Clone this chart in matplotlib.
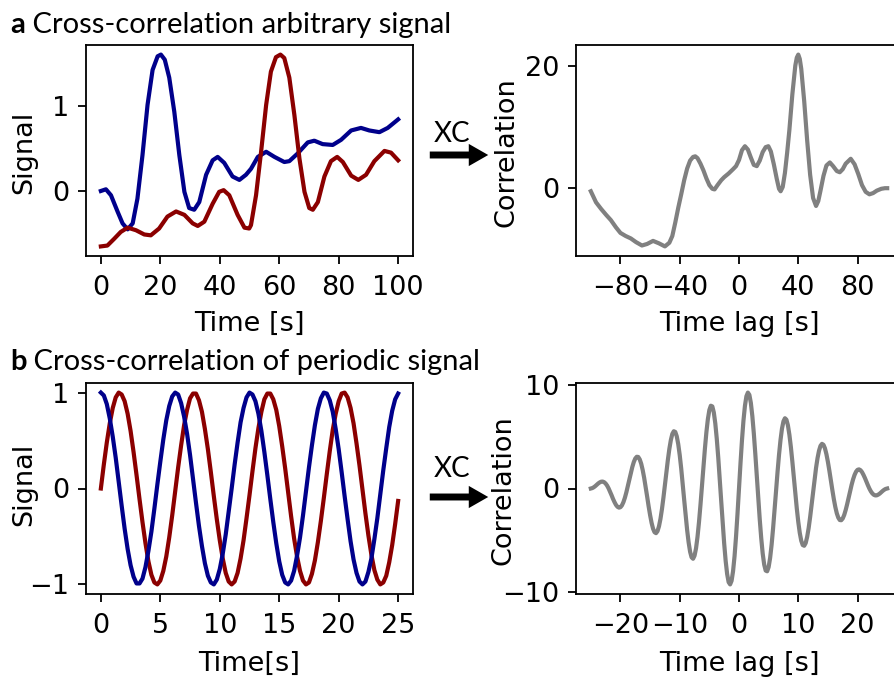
import matplotlib
matplotlib.use("Agg")
import matplotlib.pyplot as plt
from matplotlib.patches import FancyArrowPatch

# ---- panel a: arbitrary signal ----
t_blue = [0, 1.7, 3.4, 5.6, 7.3, 9.0, 10.7, 12.3, 14.0, 15.7, 17.4, 19.1, 20.2,
          21.5, 23.0, 24.7, 26.4, 28.1, 29.7, 31.4, 33.1, 35.4, 37.6, 39.3, 41.5,
          44.3, 46.6, 48.8, 50.5, 52.8, 55.6, 58.4, 61.7, 63.4, 66.2, 69.6, 71.8,
          74.6, 78.0, 80.8, 84.2, 87.5, 90.3, 93.7, 96.5, 100]
sig_blue = [0.00, 0.02, -0.05, -0.24, -0.38, -0.45, -0.38, -0.09, 0.42, 1.01, 1.42,
            1.58, 1.60, 1.54, 1.33, 0.93, 0.42, -0.01, -0.20, -0.22, -0.13, 0.19,
            0.36, 0.40, 0.33, 0.17, 0.13, 0.19, 0.26, 0.40, 0.46, 0.40, 0.34, 0.35,
            0.44, 0.57, 0.59, 0.55, 0.54, 0.60, 0.71, 0.74, 0.71, 0.69, 0.74, 0.84]

t_red = [0, 2.2, 4.5, 6.7, 9.0, 11.8, 14.6, 16.8, 19.6, 22.4, 25.3, 28.1, 30.9,
         32.6, 34.8, 37.6, 39.8, 41.3, 43.2, 46.0, 48.3, 49.9, 50.5, 52.2, 53.9,
         55.6, 57.2, 58.9, 60.4, 61.7, 63.4, 65.1, 66.8, 68.5, 70.1, 71.3, 73.0,
         75.2, 77.4, 79.5, 81.4, 84.2, 86.6, 89.2, 92.0, 95.4, 97.6, 100]
sig_red = [-0.65, -0.64, -0.56, -0.48, -0.43, -0.46, -0.51, -0.52, -0.44, -0.30,
           -0.24, -0.28, -0.38, -0.41, -0.36, -0.15, -0.01, 0.01, -0.05, -0.28,
           -0.43, -0.44, -0.40, -0.05, 0.46, 1.01, 1.40, 1.57, 1.60, 1.56, 1.33,
           0.89, 0.38, -0.01, -0.20, -0.22, -0.13, 0.17, 0.35, 0.40, 0.34, 0.18,
           0.13, 0.19, 0.35, 0.47, 0.45, 0.36]

lag_a = [-100, -96.5, -93, -89.5, -86.5, -83, -80, -76.5, -73, -69.5, -65.5, -62,
         -58, -54, -50, -47, -45, -43, -41, -39, -37, -35, -33, -31, -29.5, -28,
         -26, -24, -22, -20, -18, -16.5, -14.5, -12, -10, -7, -4, -2, 0, 2, 4, 6,
         8, 10, 12, 14, 16, 18, 19.8, 21.5, 23.5, 25.5, 27, 28.1, 29.5, 31, 32.5,
         34, 36, 38, 39, 40, 41, 42, 44, 46, 48, 50, 52, 53.5, 55, 57, 59, 61.3,
         63.5, 66, 68, 70, 72, 75.4, 78, 80.5, 83, 85.5, 88, 90.5, 93, 96, 98.5, 100]
corr_a = [-0.5, -2.3, -3.4, -4.4, -5.2, -6.4, -7.3, -7.8, -8.2, -8.8, -9.35, -9.1,
          -8.6, -9.0, -9.5, -8.9, -7.8, -5.6, -3.2, -1.0, 1.3, 3.2, 4.5, 5.1, 5.2,
          4.9, 4.0, 2.9, 1.6, 0.5, -0.1, -0.2, 0.5, 1.3, 1.8, 2.4, 3.1, 3.6, 4.6,
          6.2, 6.85, 6.3, 5.0, 3.8, 3.6, 4.5, 5.9, 6.7, 6.85, 6.0, 3.9, 1.5, -0.1,
          -0.5, 0.2, 2.5, 5.8, 9.5, 15.3, 20.0, 21.3, 21.8, 21.1, 19.5, 14.2, 7.8,
          2.2, -1.6, -2.9, -2.1, -0.4, 2.0, 3.7, 4.2, 3.6, 2.8, 2.6, 3.1, 4.0, 4.8,
          3.9, 2.3, 0.5, -0.6, -1.0, -0.8, -0.4, -0.1, 0.0, 0.0]

# ---- panel b: periodic signal (0 to 25 s, every 0.25 s) ----
t_per = [i * 0.25 for i in range(101)]
sig_red_b = [0.00, 0.25, 0.48, 0.68, 0.84, 0.95, 1.00, 0.98, 0.91, 0.78, 0.60, 0.38,
             0.14, -0.11, -0.35, -0.57, -0.76, -0.90, -0.98, -1.00, -0.96, -0.86,
             -0.71, -0.51, -0.28, -0.03, 0.22, 0.45, 0.66, 0.82, 0.94, 0.99, 0.99,
             0.92, 0.80, 0.62, 0.41, 0.17, -0.08, -0.32, -0.54, -0.73, -0.88, -0.97,
             -1.00, -0.97, -0.88, -0.73, -0.54, -0.31, -0.07, 0.18, 0.42, 0.63, 0.80,
             0.93, 0.99, 0.99, 0.93, 0.82, 0.65, 0.44, 0.21, -0.04, -0.29, -0.52,
             -0.71, -0.86, -0.96, -1.00, -0.98, -0.89, -0.75, -0.56, -0.34, -0.10,
             0.15, 0.39, 0.61, 0.78, 0.91, 0.99, 1.00, 0.95, 0.84, 0.68, 0.47, 0.24,
             -0.01, -0.26, -0.49, -0.69, -0.85, -0.95, -1.00, -0.98, -0.91, -0.77,
             -0.59, -0.37, -0.13]
sig_blue_b = [1.00, 0.97, 0.88, 0.73, 0.54, 0.32, 0.07, -0.18, -0.42, -0.63, -0.80,
              -0.92, -0.99, -0.99, -0.94, -0.82, -0.65, -0.45, -0.21, 0.04, 0.28,
              0.51, 0.71, 0.86, 0.96, 1.00, 0.98, 0.89, 0.75, 0.57, 0.35, 0.10, -0.15,
              -0.39, -0.60, -0.78, -0.91, -0.98, -1.00, -0.95, -0.84, -0.68, -0.48,
              -0.24, 0.00, 0.25, 0.48, 0.69, 0.84, 0.95, 1.00, 0.98, 0.91, 0.78, 0.60,
              0.38, 0.14, -0.11, -0.35, -0.57, -0.76, -0.90, -0.98, -1.00, -0.96,
              -0.86, -0.70, -0.51, -0.28, -0.03, 0.22, 0.45, 0.66, 0.83, 0.94, 1.00,
              0.99, 0.92, 0.80, 0.62, 0.41, 0.17, -0.08, -0.32, -0.55, -0.74, -0.88,
              -0.97, -1.00, -0.97, -0.87, -0.73, -0.53, -0.31, -0.06, 0.19, 0.42,
              0.64, 0.81, 0.93, 0.99]

# correlation for lags -25 ... -0.25 and 0 ... 25 (every 0.25 s)
corr_neg = [0.00, 0.04, 0.12, 0.23, 0.36, 0.49, 0.59, 0.66, 0.67, 0.61, 0.48, 0.28,
            0.01, -0.31, -0.65, -1.01, -1.32, -1.59, -1.77, -1.85, -1.81, -1.63,
            -1.32, -0.89, -0.36, 0.25, 0.88, 1.51, 2.08, 2.56, 2.90, 3.07, 3.05,
            2.82, 2.40, 1.79, 1.03, 0.15, -0.77, -1.71, -2.57, -3.32, -3.89, -4.23,
            -4.32, -4.13, -3.66, -2.94, -2.00, -0.89, 0.33, 1.57, 2.77, 3.83, 4.68,
            5.28, 5.54, 5.47, 5.05, 4.29, 3.23, 1.93, 0.46, -1.09, -2.61, -4.02,
            -5.21, -6.12, -6.66, -6.80, -6.50, -5.79, -4.68, -3.25, -1.58, 0.25,
            2.10, 3.86, 5.45, 6.72, 7.60, 8.01, 7.94, 7.36, 6.30, 4.81, 2.99, 0.93,
            -1.23, -3.36, -5.33, -7.01, -8.28, -9.06, -9.28, -8.93, -7.99, -6.55,
            -4.65, -2.42]
corr_pos = [0.00, 2.42, 4.65, 6.55, 7.99, 8.93, 9.28, 9.06, 8.28, 7.01, 5.33, 3.36,
            1.23, -0.93, -2.99, -4.81, -6.30, -7.36, -7.94, -8.01, -7.60, -6.72,
            -5.45, -3.86, -2.10, -0.25, 1.58, 3.25, 4.68, 5.79, 6.50, 6.80, 6.66,
            6.12, 5.21, 4.02, 2.61, 1.09, -0.46, -1.93, -3.23, -4.29, -5.05, -5.47,
            -5.54, -5.28, -4.68, -3.83, -2.77, -1.57, -0.33, 0.89, 2.00, 2.94, 3.66,
            4.13, 4.32, 4.23, 3.89, 3.32, 2.57, 1.71, 0.77, -0.15, -1.03, -1.79,
            -2.40, -2.82, -3.05, -3.07, -2.90, -2.56, -2.08, -1.51, -0.88, -0.25,
            0.36, 0.89, 1.32, 1.63, 1.81, 1.85, 1.77, 1.59, 1.32, 1.01, 0.65, 0.31,
            -0.01, -0.28, -0.48, -0.61, -0.67, -0.66, -0.59, -0.49, -0.36, -0.23,
            -0.12, -0.04, 0.00]
lag_b = [i * 0.25 - 25 for i in range(201)]
corr_b = corr_neg + corr_pos

blue = "#00008b"
red = "#8b0000"
grey = "#808080"
lw = 3.0
tick_fs = 19.5
label_fs = 19.5
head_font = "Lato"

plt.rcParams["font.family"] = "DejaVu Sans"
plt.rcParams["axes.linewidth"] = 1.3
plt.rcParams["xtick.major.width"] = 1.3
plt.rcParams["ytick.major.width"] = 1.3
plt.rcParams["xtick.major.size"] = 6
plt.rcParams["ytick.major.size"] = 6

fig = plt.figure(figsize=(8.95, 6.78), dpi=100)
W, H = 895, 678


def add_ax(x0, y0, x1, y1):
    return fig.add_axes([x0 / W, 1 - y1 / H, (x1 - x0) / W, (y1 - y0) / H])


ax1 = add_ax(86, 45, 413, 256)
ax2 = add_ax(576, 45, 902, 256)
ax3 = add_ax(86, 383, 413, 594)
ax4 = add_ax(576, 383, 902, 594)

ax1.plot(t_blue, sig_blue, color=blue, lw=lw)
ax1.plot(t_red, sig_red, color=red, lw=lw)
ax1.set_xticks([0, 20, 40, 60, 80, 100])
ax1.set_yticks([0, 1])
ax1.set_xlabel("Time [s]", fontsize=label_fs)
ax1.set_ylabel("Signal", fontsize=label_fs)

ax2.plot(lag_a, corr_a, color=grey, lw=lw)
ax2.set_xticks([-80, -40, 0, 40, 80])
ax2.set_yticks([0, 20])
ax2.set_xlabel("Time lag [s]", fontsize=label_fs)
ax2.set_ylabel("Correlation", fontsize=label_fs)

ax3.plot(t_per, sig_red_b, color=red, lw=lw)
ax3.plot(t_per, sig_blue_b, color=blue, lw=lw)
ax3.set_xticks([0, 5, 10, 15, 20, 25])
ax3.set_yticks([-1, 0, 1])
ax3.set_xlabel("Time[s]", fontsize=label_fs)
ax3.set_ylabel("Signal", fontsize=label_fs)

ax4.plot(lag_b, corr_b, color=grey, lw=lw)
ax4.set_xticks([-20, -10, 0, 10, 20])
ax4.set_yticks([-10, 0, 10])
ax4.set_xlabel("Time lag [s]", fontsize=label_fs)
ax4.set_ylabel("Correlation", fontsize=label_fs)

for ax in (ax1, ax2, ax3, ax4):
    ax.tick_params(labelsize=tick_fs)
    ax.tick_params(axis="x", pad=8)
    ax.tick_params(axis="y", pad=6)

# fixed label places, as in the original layout
ax1.xaxis.set_label_coords(0.5, -0.262)
ax2.xaxis.set_label_coords(0.5, -0.262)
ax3.xaxis.set_label_coords(0.5, -0.270)
ax4.xaxis.set_label_coords(0.5, -0.270)
ax1.yaxis.set_label_coords(-0.150, 0.49)
ax3.yaxis.set_label_coords(-0.150, 0.52)
ax2.yaxis.set_label_coords(-0.172, 0.49)
ax4.yaxis.set_label_coords(-0.181, 0.49)

# panel headings: bold letter followed by the title text (same baseline)
for letter, text, ybase in (("a", "Cross-correlation arbitrary signal", 38),
                            ("b", "Cross-correlation of periodic signal", 375)):
    t = fig.text(10 / W, 1 - ybase / H, letter, fontsize=21, fontweight="bold",
                 family=head_font, va="bottom")
    plt.annotate(" " + text, xy=(1, 0), xycoords=t, xytext=(0, 0),
                 textcoords="offset points", fontsize=21, family=head_font,
                 va="bottom", ha="left", annotation_clip=False)

# XC arrows between the panels
for yc, ytxt in ((155, 134), (497, 469)):
    arr = FancyArrowPatch((427 / W, 1 - yc / H), (491 / W, 1 - yc / H),
                          transform=fig.transFigure,
                          arrowstyle="simple,head_width=0.8,head_length=0.7,tail_width=0.25",
                          mutation_scale=20, color="black", lw=0)
    fig.patches.append(arr)
    fig.text(452 / W, 1 - ytxt / H, "XC", fontsize=20, family=head_font,
             ha="center", va="center")

fig.savefig("out.png", dpi=100)
